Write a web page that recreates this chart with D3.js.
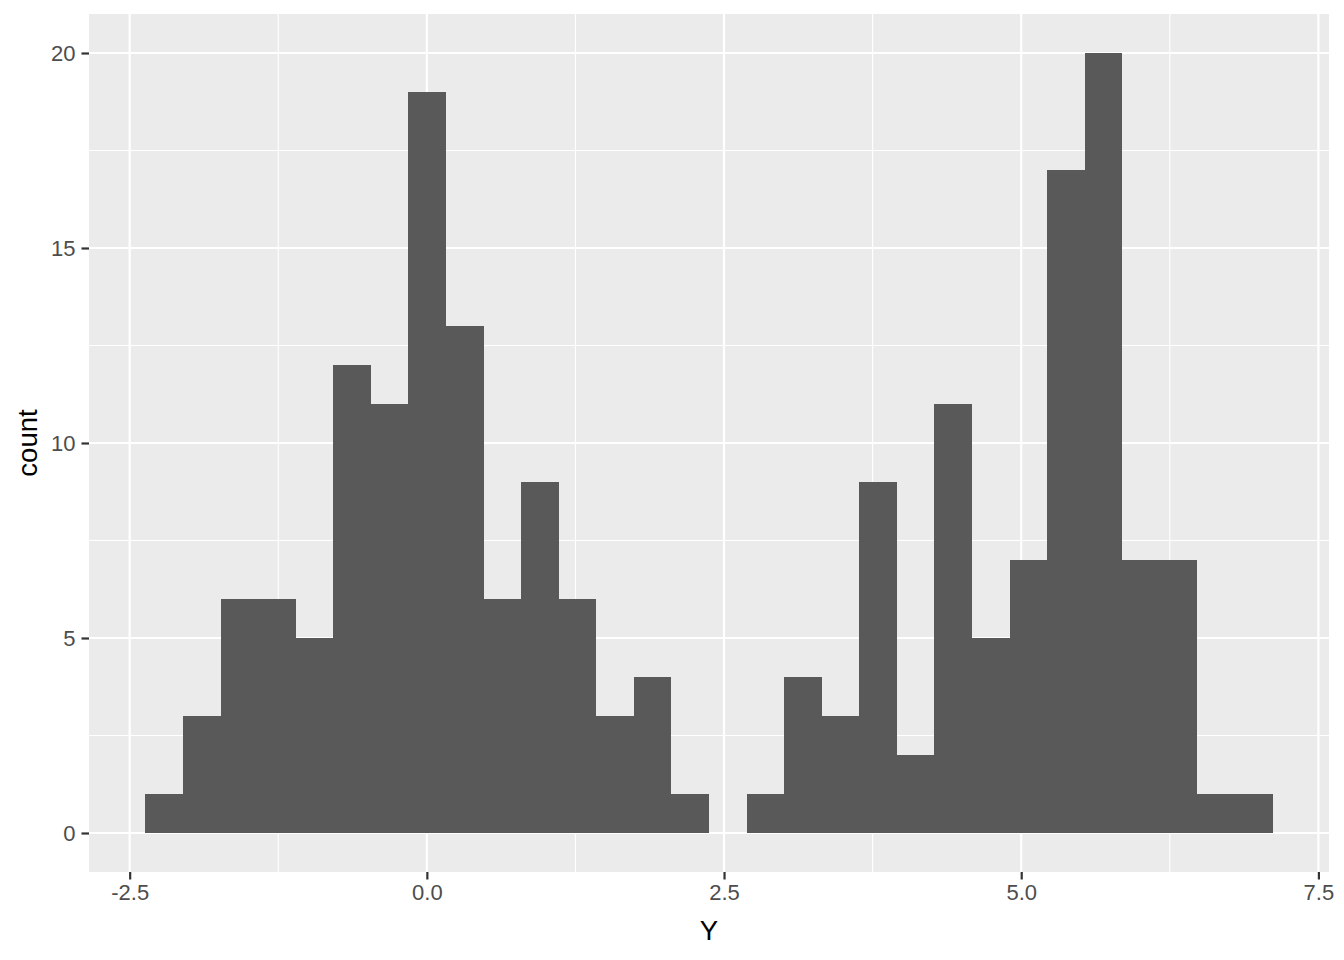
<!DOCTYPE html>
<html>
<head>
<meta charset="utf-8">
<script src="https://cdn.jsdelivr.net/npm/d3@7"></script>
<style>
  html, body { margin: 0; padding: 0; background: #fff; }
  svg { display: block; }
</style>
</head>
<body>
<svg id="chart" width="1344" height="960"></svg>
<script>
// Histogram data (30 bins)
const binStart = -2.368;
const binWidth = 0.3161;
const counts = [1, 3, 6, 6, 5, 12, 11, 19, 13, 6, 9, 6, 3, 4, 1,
                0, 1, 4, 3, 9, 2, 11, 5, 7, 17, 20, 7, 7, 1, 1];
const xTicks = [-2.5, 0, 2.5, 5, 7.5];
const xTickLabels = ["-2.5", "0.0", "2.5", "5.0", "7.5"];
const xMinor = [-1.25, 1.25, 3.75, 6.25];
const yTicks = [0, 5, 10, 15, 20];
const yMinor = [2.5, 7.5, 12.5, 17.5];
const xTitle = "Y";
const yTitle = "count";

const bins = counts.map((c, i) => ({
  x0: binStart + i * binWidth,
  x1: binStart + (i + 1) * binWidth,
  count: c
}));

const svg = d3.select("#chart");
const panel = { left: 89, right: 1329, top: 14, bottom: 872 };

const xMin = binStart, xMax = binStart + counts.length * binWidth;
const xPad = (xMax - xMin) * 0.05;
const x = d3.scaleLinear().domain([xMin - xPad, xMax + xPad]).range([panel.left, panel.right]);
const yMaxV = d3.max(counts);
const y = d3.scaleLinear().domain([-yMaxV * 0.05, yMaxV * 1.05]).range([panel.bottom, panel.top]);

// panel background
svg.append("rect")
  .attr("x", panel.left).attr("y", panel.top)
  .attr("width", panel.right - panel.left).attr("height", panel.bottom - panel.top)
  .attr("fill", "#EBEBEB");

const grid = svg.append("g");
// minor grid
grid.selectAll(".xminor").data(xMinor).enter().append("line")
  .attr("x1", d => x(d)).attr("x2", d => x(d))
  .attr("y1", panel.top).attr("y2", panel.bottom)
  .attr("stroke", "#fff").attr("stroke-width", 1.1);
grid.selectAll(".yminor").data(yMinor).enter().append("line")
  .attr("y1", d => y(d)).attr("y2", d => y(d))
  .attr("x1", panel.left).attr("x2", panel.right)
  .attr("stroke", "#fff").attr("stroke-width", 1.1);
// major grid
grid.selectAll(".xmajor").data(xTicks).enter().append("line")
  .attr("x1", d => x(d)).attr("x2", d => x(d))
  .attr("y1", panel.top).attr("y2", panel.bottom)
  .attr("stroke", "#fff").attr("stroke-width", 2.2);
grid.selectAll(".ymajor").data(yTicks).enter().append("line")
  .attr("y1", d => y(d)).attr("y2", d => y(d))
  .attr("x1", panel.left).attr("x2", panel.right)
  .attr("stroke", "#fff").attr("stroke-width", 2.2);

// bars
svg.append("g").selectAll("rect").data(bins.filter(b => b.count > 0)).enter().append("rect")
  .attr("x", d => x(d.x0))
  .attr("width", d => x(d.x1) - x(d.x0))
  .attr("y", d => y(d.count))
  .attr("height", d => y(0) - y(d.count))
  .attr("fill", "#595959")
  .attr("shape-rendering", "crispEdges");

// axes
const fontFam = "'Liberation Sans', Arial, sans-serif";
const xAxis = d3.axisBottom(x).tickValues(xTicks).tickFormat((d, i) => xTickLabels[i]).tickSize(7.5).tickPadding(5);
const gx = svg.append("g").attr("transform", `translate(0,${panel.bottom})`).call(xAxis);
gx.select(".domain").remove();
gx.selectAll(".tick line").attr("stroke", "#333333").attr("stroke-width", 2.2);
gx.selectAll(".tick text").attr("fill", "#4D4D4D").attr("font-size", 22).attr("font-family", fontFam);

const yAxis = d3.axisLeft(y).tickValues(yTicks).tickFormat(d3.format("d")).tickSize(7.5).tickPadding(6);
const gy = svg.append("g").attr("transform", `translate(${panel.left},0)`).call(yAxis);
gy.select(".domain").remove();
gy.selectAll(".tick line").attr("stroke", "#333333").attr("stroke-width", 2.2);
gy.selectAll(".tick text").attr("fill", "#4D4D4D").attr("font-size", 22).attr("font-family", fontFam);

// titles
svg.append("text")
  .attr("x", (panel.left + panel.right) / 2).attr("y", 940)
  .attr("text-anchor", "middle")
  .attr("font-size", 27.5).attr("font-family", fontFam).attr("fill", "#000")
  .text(xTitle);
svg.append("text")
  .attr("transform", `translate(37,${(panel.top + panel.bottom) / 2}) rotate(-90)`)
  .attr("text-anchor", "middle")
  .attr("font-size", 27.5).attr("font-family", fontFam).attr("fill", "#000")
  .text(yTitle);
</script>
</body>
</html>
